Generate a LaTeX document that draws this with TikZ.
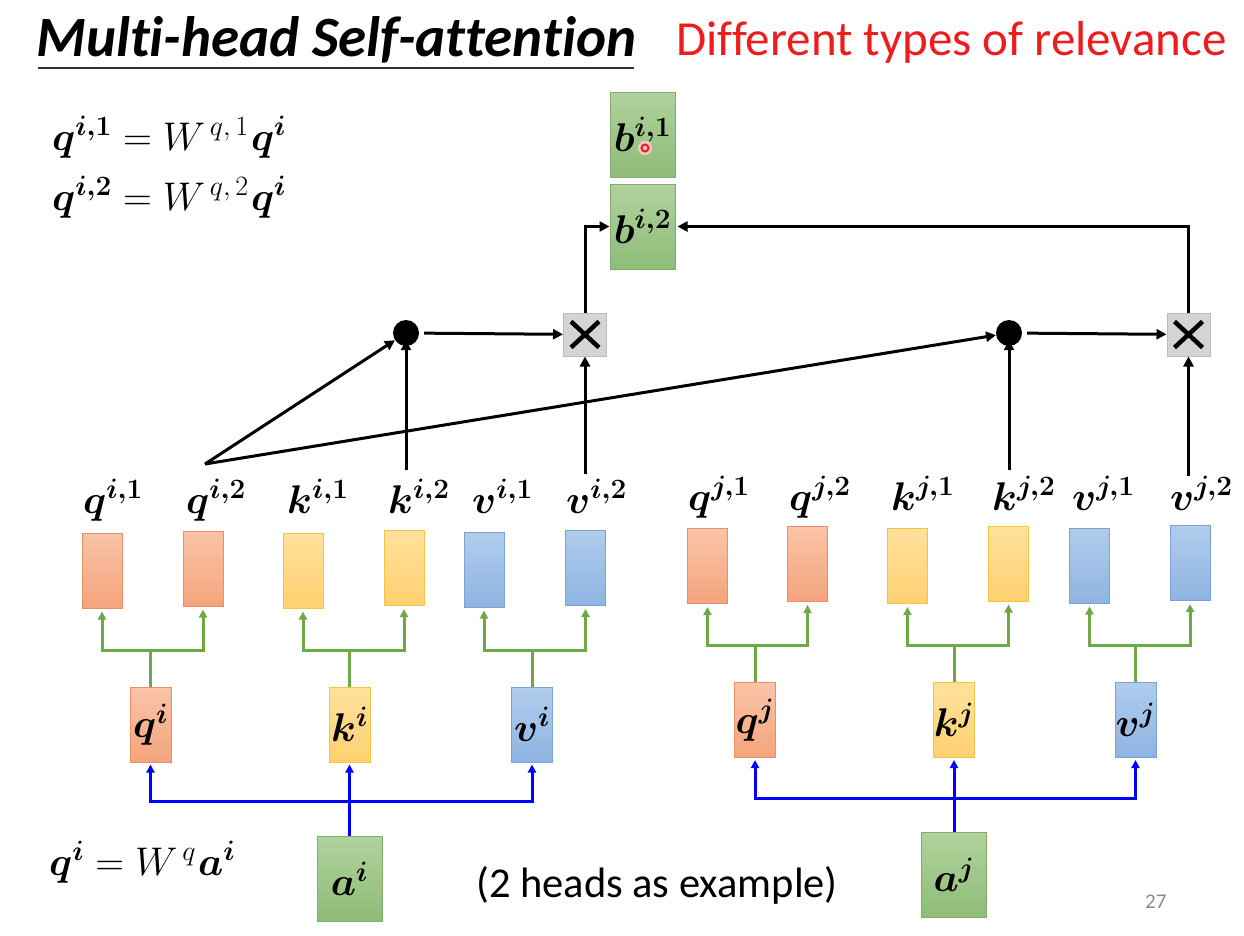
\RequirePackage{fix-cm}
\documentclass[tikz,border=0pt]{standalone}
\usepackage{fontspec}
\setmainfont{Carlito}[Ligatures={NoCommon}]
\usepackage{amsmath}
\usepackage{bm}
\usetikzlibrary{arrows.meta}
\definecolor{qtop}{RGB}{249,196,168}
\definecolor{qbot}{RGB}{244,164,124}
\definecolor{qbd}{RGB}{232,142,104}
\definecolor{ktop}{RGB}{255,225,156}
\definecolor{kbot}{RGB}{255,208,112}
\definecolor{kbd}{RGB}{246,196,64}
\definecolor{vtop}{RGB}{176,204,236}
\definecolor{vbot}{RGB}{142,180,226}
\definecolor{vbd}{RGB}{124,162,212}
\definecolor{gtop}{RGB}{176,210,156}
\definecolor{gbot}{RGB}{142,188,120}
\definecolor{gbd}{RGB}{130,172,110}
\definecolor{xfill}{RGB}{212,212,212}
\definecolor{xbd}{RGB}{188,188,188}
\definecolor{grn}{RGB}{112,168,72}
\definecolor{slidered}{RGB}{238,28,28}
\newcommand{\mfont}{\fontsize{40}{44}\selectfont}
\tikzset{
  vecbox/.style={rectangle, line width=1pt, inner sep=0pt, minimum width=40pt, minimum height=75pt},
  qbox/.style={vecbox, draw=qbd, top color=qtop, bottom color=qbot},
  kbox/.style={vecbox, draw=kbd, top color=ktop, bottom color=kbot},
  vbox/.style={vecbox, draw=vbd, top color=vtop, bottom color=vbot},
  midq/.style={qbox, minimum width=41pt, font=\mfont},
  midk/.style={kbox, minimum width=41pt, font=\mfont},
  midv/.style={vbox, minimum width=41pt, font=\mfont},
  gbox/.style={rectangle, line width=1pt, inner sep=0pt, draw=gbd, top color=gtop, bottom color=gbot, minimum width=65pt, minimum height=85pt, font=\mfont},
  lbl/.style={anchor=base west, inner sep=0pt, font=\mfont},
  dotnode/.style={circle, fill=black, inner sep=0pt, minimum size=26pt},
  xnode/.style={rectangle, fill=xfill, draw=xbd, line width=1pt, minimum size=43pt, inner sep=0pt,
    path picture={\draw[black, line width=4.5pt] ([shift={(-14pt,-13pt)}]path picture bounding box.center) -- ([shift={(14pt,13pt)}]path picture bounding box.center);
      \draw[black, line width=4.5pt] ([shift={(-14pt,13pt)}]path picture bounding box.center) -- ([shift={(14pt,-13pt)}]path picture bounding box.center);}},
  blk/.style={line width=3pt, -{Triangle[length=10pt,width=10pt]}},
  garr/.style={draw=grn, line width=3pt, -{Triangle[length=8pt,width=8pt]}},
  gline/.style={draw=grn, line width=3pt},
  barr/.style={draw=blue, line width=3pt, -{Triangle[length=8pt,width=8pt]}},
}
\begin{document}
\begin{tikzpicture}[x=1pt,y=-1pt]
\useasboundingbox (0,0) rectangle (1244,935);
\fill[white] (0,0) rectangle (1244,935);
% title
\node (title) [anchor=base west, inner sep=0pt, font=\fontsize{57}{64}\selectfont\bfseries\itshape] at (36,56) {Multi-head Self-attention};
\draw[line width=1.5pt, black!80] (38,68) -- (634,68);
\node (sub) [anchor=base west, inner sep=0pt, text=slidered, font=\fontsize{49}{56}\selectfont] at (676,55) {Different types of relevance};
% equations
\node (eq1) [lbl] at (52,150) {$\bm{q^{i,1}} = W^{\,q,\,1}\mkern1mu\bm{q^i}$};
\node (eq2) [lbl] at (52,210) {$\bm{q^{i,2}} = W^{\,q,\,2}\mkern1mu\bm{q^i}$};
\node (eq3) [lbl] at (49,875) {$\bm{q^i} = W^{\,q}\mkern1mu\bm{a^i}$};
\node (note) [anchor=base west, inner sep=0pt, font=\fontsize{42.5}{48}\selectfont] at (476,897) {(2 heads as example)};
\node (pg) [anchor=base west, inner sep=0pt, text=black!45, font=\fontsize{21}{24}\selectfont] at (1145,908) {27};
% b boxes
\node (bi1) [gbox] at (642.5,134.5) {$\bm{b^{i,1}}$};
\node (bi2) [gbox] at (642.5,226.5) {$\bm{b^{i,2}}$};
% laser dot
\fill[slidered!25] (645,148) circle (7pt);
\draw[slidered, line width=2pt] (645,148) circle (3.5pt);
% dots and multiply boxes
\node (dotL) [dotnode] at (406,333) {};
\node (dotR) [dotnode] at (1009,333) {};
\node (xL) [xnode] at (585,334.5) {};
\node (xR) [xnode] at (1188.5,334.5) {};
% top-row vector boxes, i
\node (qi1) [qbox] at (102,570.5) {};
\node (qi2) [qbox] at (203,568.5) {};
\node (ki1) [kbox] at (303,570.5) {};
\node (ki2) [kbox] at (404,568) {};
\node (vi1) [vbox] at (484,569.5) {};
\node (vi2) [vbox] at (585.5,568) {};
% top-row vector boxes, j
\node (qj1) [qbox] at (707.5,566) {};
\node (qj2) [qbox] at (807.5,564) {};
\node (kj1) [kbox] at (907.5,566) {};
\node (kj2) [kbox] at (1008.5,563.5) {};
\node (vj1) [vbox] at (1089.5,565.5) {};
\node (vj2) [vbox] at (1190,563) {};
% labels
\node (lqi1) [lbl] at (83,513) {$\bm{q^{i,1}}$};
\node (lqi2) [lbl] at (186,513) {$\bm{q^{i,2}}$};
\node (lki1) [lbl] at (287,513) {$\bm{k^{i,1}}$};
\node (lki2) [lbl] at (388,513) {$\bm{k^{i,2}}$};
\node (lvi1) [lbl] at (472,513) {$\bm{v^{i,1}}$};
\node (lvi2) [lbl] at (566,513) {$\bm{v^{i,2}}$};
\node (lqj1) [lbl] at (688,510) {$\bm{q^{j,1}}$};
\node (lqj2) [lbl] at (789,510) {$\bm{q^{j,2}}$};
\node (lkj1) [lbl] at (891,510) {$\bm{k^{j,1}}$};
\node (lkj2) [lbl] at (992,510) {$\bm{k^{j,2}}$};
\node (lvj1) [lbl] at (1072,510) {$\bm{v^{j,1}}$};
\node (lvj2) [lbl] at (1170,510) {$\bm{v^{j,2}}$};
% middle boxes
\node (qi) [midq] at (150.5,724.5) {$\bm{q^i}$};
\node (ki) [midk] at (349.5,724.5) {$\bm{k^i}$};
\node (vi) [midv] at (532,724.5) {$\bm{v^i}$};
\node (qj) [midq] at (755,720) {$\bm{q^j}$};
\node (kj) [midk] at (954,720) {$\bm{k^j}$};
\node (vj) [midv] at (1135.5,720) {$\bm{v^j}$};
% input boxes
\node (ai) [gbox] at (349.5,879) {$\bm{a^i}$};
\node (aj) [gbox] at (954,875) {$\bm{a^j}$};
% source coordinates for the attention lines
\coordinate (qsrc) at (205,464);
\coordinate (kisrc) at (406,470);
\coordinate (visrc) at (585,474);
\coordinate (kjsrc) at (1009,470);
\coordinate (vjsrc) at (1188.5,476);
\coordinate (brI) at (0,650);
\coordinate (brJ) at (0,645);
\coordinate (blI) at (0,801);
\coordinate (blJ) at (0,798);
% black attention connectors
\draw[blk] (qsrc) -- (dotL);
\draw[blk] (qsrc) -- (dotR);
\draw[blk] (kisrc) -- ([yshift=6pt]dotL.south);
\draw[blk] (kjsrc) -- ([yshift=6pt]dotR.south);
\draw[blk] (visrc) -- (xL.south);
\draw[blk] (vjsrc) -- (xR.south);
\draw[blk, shorten <=5pt] (dotL) -- (xL);
\draw[blk, shorten <=5pt] (dotR) -- (xR);
\draw[blk] (xL.north) |- (bi2.west);
\draw[blk, shorten >=2pt] (xR.north) |- (bi2.east);
% green splits
\foreach \m/\a/\b/\br in {qi/qi1/qi2/brI, ki/ki1/ki2/brI, vi/vi1/vi2/brI, qj/qj1/qj2/brJ, kj/kj1/kj2/brJ, vj/vj1/vj2/brJ}{
  \draw[gline] (\m.north) -- (\m.north |- \br);
  \draw[garr, shorten >=3pt] (\m.north |- \br) -| (\a.south);
  \draw[garr, shorten >=3pt] (\m.north |- \br) -| (\b.south);
}
% blue splits
\foreach \s/\br/\x/\y/\z in {ai/blI/qi/ki/vi, aj/blJ/qj/kj/vj}{
  \draw[draw=blue, line width=3pt] (\s.north) -- (\s.north |- \br);
  \draw[barr, shorten >=2pt] (\s.north |- \br) -| (\x.south);
  \draw[barr, shorten >=2pt] (\s.north |- \br) -| (\z.south);
  \draw[barr, shorten >=2pt] (\s.north |- \br) -- (\y.south);
}
\end{tikzpicture}
\end{document}
